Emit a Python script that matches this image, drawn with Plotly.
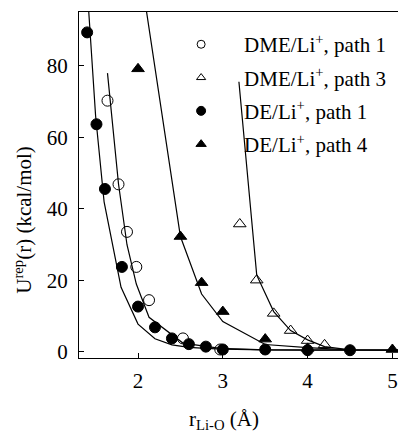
import plotly.graph_objects as go

# Repulsive Li-O potential energy vs. distance, computed points and fitted curves
dme1_r = [1.64, 1.77, 1.87, 1.98, 2.13, 2.53, 2.97]
dme1_u = [70.3, 46.9, 33.6, 23.8, 14.5, 3.8, 0.7]
dme1_fit_r = [1.64, 1.77, 1.87, 1.98, 2.13, 2.53, 2.97, 3.5, 4.0, 4.5]
dme1_fit_u = [78.0, 47.0, 30.0, 19.0, 9.7, 2.5, 1.0, 0.6, 0.5, 0.5]

dme3_r = [3.2, 3.4, 3.6, 3.8, 4.0, 4.2]
dme3_u = [35.8, 20.1, 10.8, 6.0, 3.2, 2.0]
dme3_fit_r = [3.19, 3.4, 3.6, 3.8, 4.0, 4.2, 4.5, 5.1]
dme3_fit_u = [75.6, 21.5, 11.3, 6.0, 3.4, 1.5, 0.6, 0.5]

de1_r = [1.40, 1.51, 1.61, 1.81, 2.0, 2.2, 2.4, 2.6, 2.8, 3.0, 3.5, 4.0, 4.5]
de1_u = [89.4, 63.7, 45.6, 23.8, 12.7, 6.9, 3.8, 2.2, 1.5, 0.7, 0.7, 0.5, 0.5]
de1_fit_r = [1.4, 1.5, 1.6, 1.8, 2.0, 2.2, 2.4, 2.6, 2.8, 3.0, 3.5, 4.0, 4.5, 5.1]
de1_fit_u = [102.0, 66.0, 42.0, 18.1, 7.8, 3.7, 2.0, 1.3, 1.0, 0.8, 0.6, 0.5, 0.5, 0.5]

de4_r = [2.0, 2.5, 2.75, 3.0, 3.5, 4.0, 5.0]
de4_u = [79.2, 32.3, 19.4, 11.3, 3.6, 1.0, 0.7]
de4_fit_r = [2.0, 2.5, 2.75, 3.0, 3.5, 4.0, 4.5, 5.1]
de4_fit_u = [111.0, 32.3, 16.2, 8.5, 2.1, 1.2, 0.6, 0.5]

x_ticks = [2, 3, 4, 5]
y_ticks = [0, 20, 40, 60, 80]

legend_names = ["DME/Li<sup>+</sup>, path 1", "DME/Li<sup>+</sup>, path 3",
                "DE/Li<sup>+</sup>, path 1", "DE/Li<sup>+</sup>, path 4"]

FONT = "Liberation Serif"
FS = 21
BLACK = "black"

fig = go.Figure()

# fitted curves
for fr, fu in [(dme1_fit_r, dme1_fit_u), (dme3_fit_r, dme3_fit_u),
               (de1_fit_r, de1_fit_u), (de4_fit_r, de4_fit_u)]:
    fig.add_trace(go.Scatter(x=fr, y=fu, mode="lines", showlegend=False,
                             line=dict(color=BLACK, width=1.2), hoverinfo="skip"))

series = [
    (dme1_r, dme1_u, "circle-open", 11, 8),
    (dme3_r, dme3_u, "triangle-up-open", 11, 8),
    (de1_r, de1_u, "circle", 11, 9),
    (de4_r, de4_u, "triangle-up", 11, 9),
]

for i, (r, u, sym, size, lsize) in enumerate(series):
    fig.add_trace(go.Scatter(
        x=r, y=u, mode="markers", showlegend=False, cliponaxis=False,
        marker=dict(symbol=sym, size=size, color=BLACK,
                    line=dict(color=BLACK, width=1))))
    # smaller symbols for the key
    fig.add_trace(go.Scatter(
        x=[None], y=[None], mode="markers", name=legend_names[i],
        legendgroup=f"g{i}",
        marker=dict(symbol=sym, size=lsize, color=BLACK,
                    line=dict(color=BLACK, width=1))))

fig.update_layout(
    width=398, height=432,
    margin=dict(l=79, r=0, t=12, b=74),
    paper_bgcolor="white", plot_bgcolor="white",
    font=dict(family=FONT, size=FS, color=BLACK),
    showlegend=True,
    legend=dict(x=0.248, y=0.965, xanchor="left", yanchor="top",
                bgcolor="rgba(0,0,0,0)", traceorder="grouped",
                tracegroupgap=3, itemwidth=76,
                font=dict(family=FONT, size=FS, color=BLACK)),
    xaxis=dict(range=[1.304, 5.066], tickvals=x_ticks, ticks="inside", ticklen=5,
               tickcolor=BLACK, showline=True, linecolor=BLACK, linewidth=1.3,
               mirror=True, showgrid=False, zeroline=False, ticklabelstandoff=4,
               tickfont=dict(family=FONT, size=FS)),
    yaxis=dict(range=[-1.68, 95.1], tickvals=y_ticks, ticks="inside", ticklen=5,
               tickcolor=BLACK, showline=True, linecolor=BLACK, linewidth=1.3,
               showgrid=False, zeroline=False, ticklabelstandoff=6,
               tickfont=dict(family=FONT, size=FS)),
    annotations=[
        dict(text="r<sub>Li-O</sub> (Å)", xref="paper", yref="paper",
             x=0.4545, y=-0.178, xanchor="center", yanchor="middle",
             showarrow=False, font=dict(family=FONT, size=FS)),
        dict(text="U<sup>rep</sup>(r) (kcal/mol)", xref="paper", yref="paper",
             x=-0.175, y=0.40, xanchor="center", yanchor="middle", textangle=-90,
             showarrow=False, font=dict(family=FONT, size=FS)),
    ],
)

fig.write_html("out.html")
